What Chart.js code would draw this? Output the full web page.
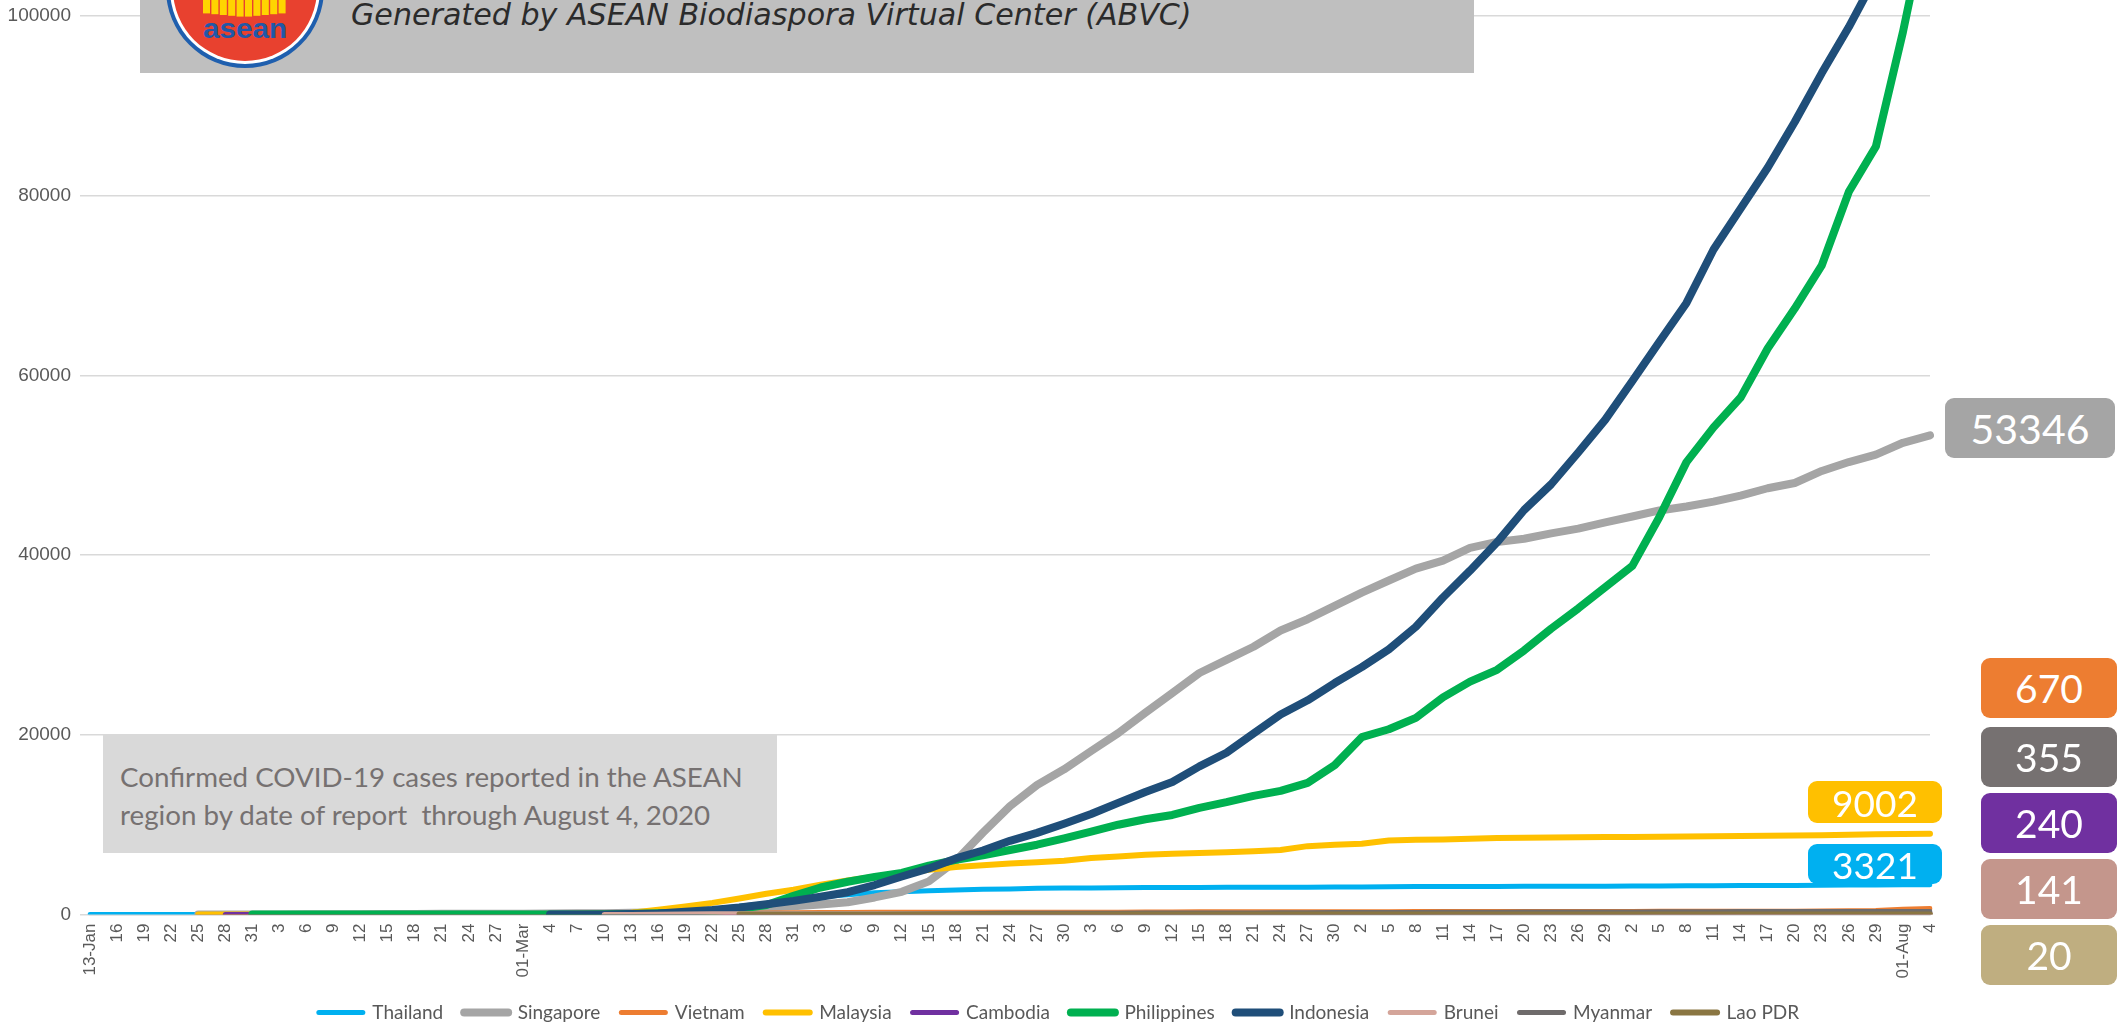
<!DOCTYPE html>
<html>
<head>
<meta charset="utf-8">
<title>ASEAN COVID-19 cumulative cases</title>
<script src="https://cdn.jsdelivr.net/npm/chart.js@4.4.1/dist/chart.umd.min.js"></script>
<style>
  html, body { margin: 0; padding: 0; background: #fff; }
  #page { position: relative; width: 2118px; height: 1027px; overflow: hidden; background: #fff; }
  #chart { position: absolute; left: 0; top: -200px; }

  #titleBox { position: absolute; left: 140px; top: 0; width: 1334px; height: 73px; background: #bfbfbf; }
  #logo { position: absolute; left: 160px; top: -96px; }
  #titleText { position: absolute; left: 351px; top: -3px; line-height: 36px; white-space: nowrap;
    font-family: "DejaVu Sans"; font-style: italic; font-size: 27px; color: #2b2b2b; }

  #note { position: absolute; left: 103px; top: 734px; width: 674px; height: 119px; background: #d9d9d9; }
  #note span { position: absolute; left: 17px; white-space: nowrap; font-family: Lato; font-size: 28px; color: #767171; line-height: 34px; }
  #note .l1 { top: 26px; }
  #note .l2 { top: 64px; }

  .tag { position: absolute; display: flex; align-items: center; justify-content: center;
    border-radius: 9px; color: #fff; font-family: Lato; font-size: 39px; }
  #tagSingapore { left: 1945px; top: 398px; width: 170px; height: 60px; font-size: 41px; }
  #tagMalaysia { left: 1808px; top: 781px; width: 134px; height: 42px; font-size: 37px; }
  #tagThailand { left: 1808px; top: 844px; width: 134px; height: 40px; font-size: 37px; }
  #tagVietnam { left: 1981px; top: 658px; width: 136px; height: 60px; }
  #tagMyanmar { left: 1981px; top: 727px; width: 136px; height: 60px; }
  #tagCambodia { left: 1981px; top: 793px; width: 136px; height: 60px; }
  #tagBrunei { left: 1981px; top: 859px; width: 136px; height: 60px; }
  #tagLao { left: 1981px; top: 925px; width: 136px; height: 60px; }
</style>
</head>
<body>
<div id="page">
  <canvas id="chart" width="2118" height="1232"></canvas>

  <div id="titleBox"></div>
  <svg id="logo" width="170" height="170" viewBox="0 0 170 170">
    <circle cx="85" cy="85" r="79" fill="#1f5fae"/>
    <circle cx="85" cy="85" r="75" fill="#ffffff"/>
    <circle cx="85" cy="85" r="72" fill="#e8412f"/>
    <g id="stalks" fill="#ffd400"></g>
    <text x="85" y="134" text-anchor="middle" font-family="Liberation Sans" font-weight="bold"
          font-size="27" fill="#2058a8" textLength="84" lengthAdjust="spacingAndGlyphs">asean</text>
  </svg>
  <div id="titleText">Generated by ASEAN Biodiaspora Virtual Center (ABVC)</div>

  <div id="note">
    <span class="l1">Confirmed COVID-19 cases reported in the ASEAN</span>
    <span class="l2">region by date of report&nbsp; through August 4, 2020</span>
  </div>

  <div class="tag" id="tagSingapore"></div>
  <div class="tag" id="tagMalaysia"></div>
  <div class="tag" id="tagThailand"></div>
  <div class="tag" id="tagVietnam"></div>
  <div class="tag" id="tagMyanmar"></div>
  <div class="tag" id="tagCambodia"></div>
  <div class="tag" id="tagBrunei"></div>
  <div class="tag" id="tagLao"></div>
</div>

<script>
// x axis: one category every 3 days, 13 Jan -> 4 Aug 2020
const tickLabels = ['13-Jan','16','19','22','25','28','31',
  '3','6','9','12','15','18','21','24','27',
  '01-Mar','4','7','10','13','16','19','22','25','28','31',
  '3','6','9','12','15','18','21','24','27','30',
  '3','6','9','12','15','18','21','24','27','30',
  '2','5','8','11','14','17','20','23','26','29',
  '2','5','8','11','14','17','20','23','26','29',
  '01-Aug','4'];

const countries = ['Thailand','Singapore','Vietnam','Malaysia','Cambodia','Philippines','Indonesia','Brunei','Myanmar','Lao PDR'];

// cumulative confirmed cases
const thailand = [1,1,2,4,7,14,19,19,25,32,
  33,34,35,35,37,40,42,43,50,53,
  75,147,272,599,934,1245,1651,1978,2220,2423,
  2551,2643,2733,2811,2854,2922,2954,2969,2989,3004,
  3017,3025,3031,3037,3042,3054,3077,3083,3104,3119,
  3125,3135,3141,3148,3151,3158,3169,3179,3195,3202,
  3217,3227,3239,3250,3261,3291,3297,3310,3321];

const singapore = [null,null,null,null,3,7,16,18,30,43,
  50,72,77,86,90,96,106,112,138,160,
  200,243,345,455,631,802,926,1114,1375,1910,
  2532,3699,5992,9125,12075,14423,16169,18205,20198,22460,
  24671,26891,28343,29812,31616,32876,34366,35836,37183,38514,
  39387,40818,41473,41833,42432,42955,43661,44310,44983,45423,
  45961,46630,47453,48035,49375,50369,51197,52512,53346];

const vietnam = [null,null,null,null,2,2,5,8,12,14,
  15,16,16,16,16,16,16,16,18,31,
  47,61,85,113,141,174,207,237,245,255,
  262,267,268,268,270,270,270,271,271,288,
  288,314,318,324,325,327,328,328,328,332,
  334,334,342,349,349,352,355,355,369,369,
  372,381,383,384,412,420,446,590,670];

const malaysia = [null,null,null,null,3,4,8,8,12,17,
  18,22,22,22,22,23,25,36,93,129,
  197,553,900,1306,1796,2320,2766,3333,3793,4228,
  4530,4987,5305,5482,5691,5820,6002,6298,6467,6656,
  6779,6855,6941,7059,7185,7619,7762,7877,8247,8322,
  8369,8453,8515,8556,8587,8606,8639,8643,8668,8683,
  8718,8737,8779,8800,8840,8897,8943,8976,9002];

const cambodia = [null,null,null,null,null,1,1,1,1,1,
  1,1,1,1,1,1,1,1,2,2,
  5,24,47,84,91,103,109,114,115,117,
  119,122,122,122,122,122,122,122,122,122,
  122,122,122,122,124,124,124,125,125,126,
  126,128,128,129,130,141,141,141,141,141,
  156,165,171,180,197,215,226,239,240];

const philippines = [null,null,null,null,null,null,1,2,3,3,
  3,3,3,3,3,3,3,3,6,33,
  64,142,217,380,636,1075,2084,3018,3660,4195,
  4648,5453,6087,6599,7192,7777,8488,9223,10004,10610,
  11086,11876,12513,13221,13777,14669,16634,19748,20626,21895,
  24175,25930,27238,29400,31825,34073,36438,38805,44254,50359,
  54222,57545,63001,67456,72269,80448,85486,98232,112593];

const indonesia = [null,null,null,null,null,null,null,null,null,null,
  null,null,null,null,null,null,null,2,4,19,
  69,134,309,514,790,1155,1528,1986,2491,3293,
  4241,5136,6248,7135,8211,9096,10118,11192,12438,13645,
  14749,16496,18010,20162,22271,23851,25773,27549,29521,32033,
  35295,38277,41431,45029,47896,51427,55092,59394,63749,68079,
  74018,78572,83130,88214,93657,98778,104432,109936,115056];

const brunei = [null,null,null,null,null,null,null,null,null,null,
  null,null,null,null,null,null,null,null,null,1,
  11,50,73,88,104,120,129,133,135,135,
  136,136,137,138,138,138,138,141,141,141,
  141,141,141,141,141,141,141,141,141,141,
  141,141,141,141,141,141,141,141,141,141,
  141,141,141,141,141,141,141,141,141];

const myanmar = [null,null,null,null,null,null,null,null,null,null,
  null,null,null,null,null,null,null,null,null,null,
  null,null,null,null,3,8,15,20,22,23,
  41,74,98,119,144,146,151,153,161,177,
  180,182,184,191,201,206,224,232,244,246,
  261,262,263,287,292,293,299,303,316,317,
  321,333,339,341,346,350,351,353,355];

const laos = [null,null,null,null,null,null,null,null,null,null,
  null,null,null,null,null,null,null,null,null,null,
  null,null,null,null,3,8,9,10,12,16,
  19,19,19,19,19,19,19,19,19,19,
  19,19,19,19,19,19,19,19,19,19,
  19,19,19,19,19,19,19,19,19,19,
  19,19,19,19,19,20,20,20,20];

const series = [thailand, singapore, vietnam, malaysia, cambodia, philippines, indonesia, brunei, myanmar, laos];
const lineColors = ['#00b0f0','#a5a5a5','#ed7d31','#ffc000','#7030a0','#00b050','#1f4e79','#d4a59a','#6f6b6b','#8a7642'];
const lineWidths = [5, 8, 5, 6, 5, 8, 8, 5, 5, 6];

// logo rice stalks
const stalks = document.getElementById('stalks');
for (let i = 0; i < 10; i++) {
    const r = document.createElementNS('http://www.w3.org/2000/svg', 'rect');
    r.setAttribute('x', 43 + i * 8.4);
    r.setAttribute('y', 40);
    r.setAttribute('width', 7);
    r.setAttribute('height', 73 - Math.abs(i - 4.5) * 0.8);
    stalks.appendChild(r);
}

const datasets = countries.map((name, i) => ({
    label: name,
    data: series[i],
    borderColor: lineColors[i],
    backgroundColor: lineColors[i],
    borderWidth: lineWidths[i],
    pointRadius: 0,
    tension: 0,
    borderCapStyle: 'round',
    borderJoinStyle: 'round',
    order: countries.length - i // later series drawn on top, like the original
}));

new Chart(document.getElementById('chart'), {
    type: 'line',
    data: { labels: tickLabels, datasets: datasets },
    options: {
        responsive: false,
        animation: false,
        devicePixelRatio: 1,
        layout: { padding: { top: 36.4, right: 0, bottom: 0, left: 0 } },
        plugins: {
            tooltip: { enabled: false },
            legend: {
                position: 'bottom',
                labels: {
                    usePointStyle: true,
                    pointStyleWidth: 44,
                    padding: 21,
                    color: '#595959',
                    font: { family: 'Lato', size: 19 },
                    sort: (a, b) => a.datasetIndex - b.datasetIndex,
                    // line-shaped keys, each as thick as its series
                    generateLabels: chart => Chart.defaults.plugins.legend.labels.generateLabels(chart).map(l => {
                        l.pointStyle = 'line';
                        l.fillStyle = lineColors[l.datasetIndex];
                        l.strokeStyle = lineColors[l.datasetIndex];
                        l.lineWidth = lineWidths[l.datasetIndex];
                        l.lineCap = 'round';
                        return l;
                    })
                }
            }
        },
        scales: {
            x: {
                grid: { display: false, drawTicks: false },
                border: { display: true, color: '#d9d9d9', width: 1.5 },
                ticks: {
                    autoSkip: false, maxRotation: 90, minRotation: 90, padding: 9,
                    color: '#595959', font: { family: 'Liberation Sans', size: 17 }
                },
                afterFit: s => { s.height = 67.4; }
            },
            y: {
                min: 0,
                max: 120000,
                ticks: {
                    stepSize: 20000, padding: 9, color: '#595959',
                    font: { family: 'Liberation Sans', size: 19 },
                    callback: v => String(v)
                },
                grid: { color: '#d9d9d9', lineWidth: 1.5, drawTicks: true, tickLength: 10, tickColor: '#d9d9d9' },
                border: { display: false },
                afterFit: s => { s.width = 90; }
            },
            // empty right-hand strip where the value tags sit
            side: {
                position: 'right',
                grid: { display: false },
                border: { display: false },
                ticks: { display: false },
                afterFit: s => { s.width = 188; }
            }
        }
    }
});

// end-of-period value tags
const last = arr => arr[arr.length - 1];
const tags = [
    ['tagSingapore', singapore, '#a5a5a5'],
    ['tagMalaysia', malaysia, '#ffc000'],
    ['tagThailand', thailand, '#00b0f0'],
    ['tagVietnam', vietnam, '#ed7d31'],
    ['tagMyanmar', myanmar, '#767171'],
    ['tagCambodia', cambodia, '#7030a0'],
    ['tagBrunei', brunei, '#c4968c'],
    ['tagLao', laos, '#bfae80']
];
tags.forEach(([id, arr, bg]) => {
    const el = document.getElementById(id);
    el.textContent = last(arr);
    el.style.background = bg;
});

// squeeze texts to the widths seen in the original
function fitWidth(el, target) {
    const w = el.getBoundingClientRect().width;
    const size = parseFloat(getComputedStyle(el).fontSize);
    el.style.fontSize = (size * target / w) + 'px';
}
fitWidth(document.getElementById('titleText'), 841);
const l1 = document.querySelector('#note .l1');
fitWidth(l1, 623);
document.querySelector('#note .l2').style.fontSize = l1.style.fontSize;
</script>
</body>
</html>
